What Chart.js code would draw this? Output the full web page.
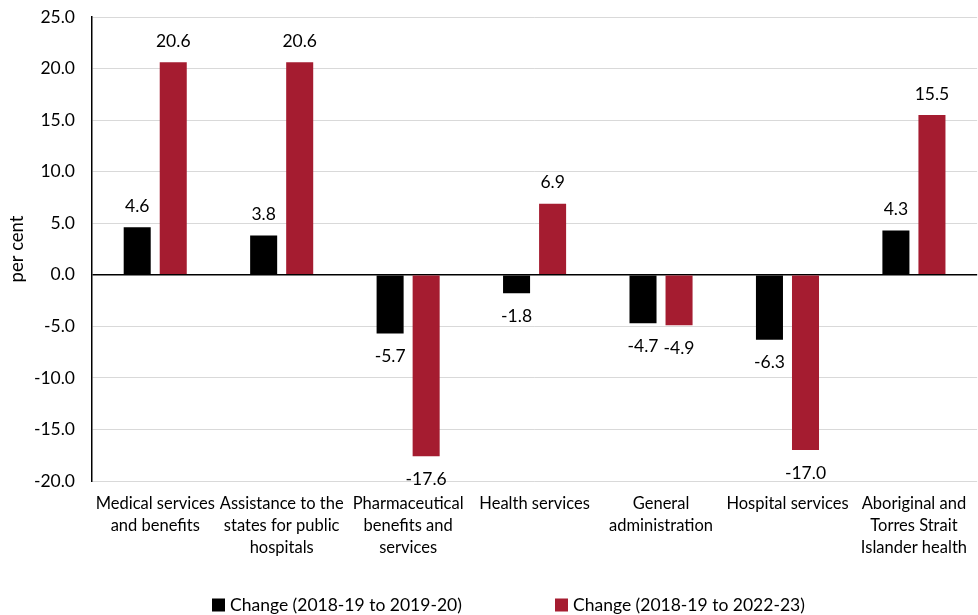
<!DOCTYPE html>
<html>
<head>
<meta charset="utf-8">
<script src="https://cdn.jsdelivr.net/npm/chart.js@4/dist/chart.umd.min.js"></script>
<style>
  html, body { margin: 0; padding: 0; background: #fff; }
  #wrap { width: 978px; height: 615px; }
</style>
</head>
<body>
<div id="wrap"><canvas id="c" width="978" height="615"></canvas></div>
<script>
const categories = [
  ['Medical services', 'and benefits'],
  ['Assistance to the', 'states for public', 'hospitals'],
  ['Pharmaceutical', 'benefits and', 'services'],
  ['Health services'],
  ['General', 'administration'],
  ['Hospital services'],
  ['Aboriginal and', 'Torres Strait', 'Islander health']
];
const seriesNames = ['Change (2018-19 to 2019-20)', 'Change (2018-19 to 2022-23)'];
const change2019_20 = [4.6, 3.8, -5.7, -1.8, -4.7, -6.3, 4.3];
const change2022_23 = [20.6, 20.6, -17.6, 6.9, -4.9, -17.0, 15.5];
const yTicks = [-20, -15, -10, -5, 0, 5, 10, 15, 20, 25];

const FONT = 'Lato, "Open Sans", sans-serif';

// Value labels placed outside the end of each bar
const valueLabels = {
  id: 'valueLabels',
  afterDatasetsDraw(chart) {
    const ctx = chart.ctx;
    ctx.save();
    ctx.font = '17.5px ' + FONT;
    ctx.fillStyle = '#000';
    ctx.textAlign = 'center';
    ctx.textBaseline = 'middle';
    chart.data.datasets.forEach((ds, i) => {
      const meta = chart.getDatasetMeta(i);
      meta.data.forEach((bar, j) => {
        const v = ds.data[j];
        const y = v >= 0 ? bar.y - 21 : bar.y + 23;
        ctx.fillText(v.toFixed(1), bar.x, y);
      });
    });
    ctx.restore();
  }
};

// Bottom legend with wide spacing between the two series
const wideLegend = {
  id: 'wideLegend',
  afterDraw(chart) {
    const ctx = chart.ctx;
    const starts = [212, 555];
    const cy = 605;
    ctx.save();
    ctx.font = '17.5px ' + FONT;
    ctx.textBaseline = 'middle';
    ctx.textAlign = 'left';
    chart.data.datasets.forEach((ds, i) => {
      const x = starts[i];
      ctx.fillStyle = ds.backgroundColor;
      ctx.fillRect(x, cy - 6.5, 13, 13);
      ctx.fillStyle = '#000';
      ctx.fillText(ds.label, x + 18, cy);
    });
    ctx.restore();
  }
};

new Chart(document.getElementById('c'), {
  type: 'bar',
  data: {
    labels: categories,
    datasets: [
      { label: seriesNames[0], data: change2019_20, backgroundColor: '#000000' },
      { label: seriesNames[1], data: change2022_23, backgroundColor: '#A51C30' }
    ]
  },
  options: {
    responsive: false,
    animation: false,
    devicePixelRatio: 1,
    layout: { padding: { top: 17, right: 0, left: 6, bottom: 0 } },
    datasets: { bar: { categoryPercentage: 0.57, barPercentage: 0.75 } },
    plugins: {
      tooltip: { enabled: false },
      legend: { display: false }
    },
    scales: {
      x: {
        grid: { display: false, drawTicks: false },
        border: { display: false },
        ticks: {
          color: '#000',
          font: { family: FONT, size: 16.5, lineHeight: 1.36 },
          padding: 11,
          maxRotation: 0,
          autoSkip: false
        },
        afterFit(scale) { scale.height = 134; }
      },
      y: {
        min: -20,
        max: 25,
        afterBuildTicks(scale) { scale.ticks = yTicks.map(v => ({ value: v })); },
        grid: {
          drawTicks: false,
          color: c => (c.tick && c.tick.value === 0) ? '#000000' : '#d9d9d9',
          lineWidth: c => (c.tick && c.tick.value === 0) ? 1.5 : 1
        },
        border: { display: true, color: '#000', width: 1.5 },
        ticks: {
          color: '#000',
          font: { family: FONT, size: 17.5 },
          padding: 17,
          callback: v => Number(v).toFixed(1)
        },
        title: {
          display: true,
          text: 'per cent',
          color: '#000',
          font: { family: FONT, size: 18.5 },
          padding: { top: 0, bottom: 0 }
        },
        afterFit(scale) {
          scale.width = 86;
          scale.paddingTop = 0;
          scale.paddingBottom = 0;
        }
      }
    }
  },
  plugins: [valueLabels, wideLegend]
});
</script>
</body>
</html>
